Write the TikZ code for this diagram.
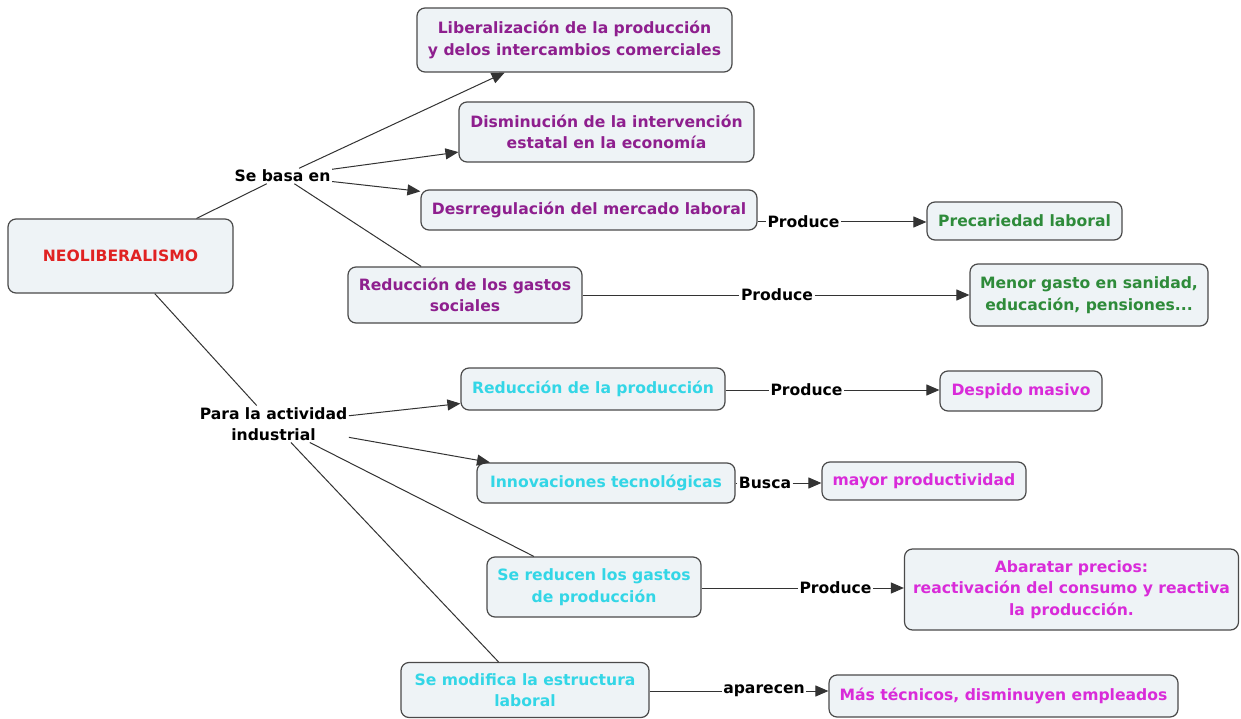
\documentclass[tikz,border=0pt]{standalone}
\usepackage{fontspec}
\setmainfont{DejaVu Sans}
\usetikzlibrary{arrows.meta}
\definecolor{boxfill}{HTML}{EEF3F6}
\definecolor{boxline}{HTML}{4A4A4A}
\definecolor{cpurple}{HTML}{8E1F8E}
\definecolor{cgreen}{HTML}{2E8B3A}
\definecolor{ccyan}{HTML}{33D6E6}
\definecolor{cmag}{HTML}{D92BD9}
\definecolor{cred}{HTML}{E02222}
\begin{document}
\begin{tikzpicture}[x=1pt,y=-1pt,
  concept/.style={draw=boxline, fill=boxfill, rounded corners=8pt, line width=1.2pt,
    align=center, inner sep=0pt, font=\fontsize{15.6}{21.5}\selectfont\bfseries},
  link/.style={inner sep=1.5pt, align=center, text=black,
    font=\fontsize{15.6}{21.5}\selectfont\bfseries},
  conn/.style={line width=1pt, draw=black!80},
  arr/.style={conn, -{Triangle[length=13pt,width=11pt]}}
]
\useasboundingbox[fill=white] (0,0) rectangle (1241,719);

% concepts
\node[concept, text=cred, minimum width=225pt, minimum height=74pt] (neo) at (120.5,256) {NEOLIBERALISMO};
\node[concept, text=cpurple, minimum width=315pt, minimum height=64pt] (lib) at (574.5,40) {Liberalización de la producción\\y delos intercambios comerciales};
\node[concept, text=cpurple, minimum width=295pt, minimum height=60pt] (dism) at (606.5,132) {Disminución de la intervención\\estatal en la economía};
\node[concept, text=cpurple, minimum width=336pt, minimum height=40pt] (desr) at (589,210) {Desrregulación del mercado laboral};
\node[concept, text=cgreen, minimum width=195pt, minimum height=38pt] (prec) at (1024.5,221) {Precariedad laboral};
\node[concept, text=cpurple, minimum width=234pt, minimum height=56pt] (redgs) at (465,295) {Reducción de los gastos\\sociales};
\node[concept, text=cgreen, minimum width=238pt, minimum height=62pt] (menor) at (1089,295) {Menor gasto en sanidad,\\educación, pensiones...};
\node[concept, text=ccyan, minimum width=264pt, minimum height=42pt] (redprod) at (593,389) {Reducción de la producción};
\node[concept, text=cmag, minimum width=162pt, minimum height=40pt] (desp) at (1021,391) {Despido masivo};
\node[concept, text=ccyan, minimum width=258pt, minimum height=40pt] (innov) at (606,483) {Innovaciones tecnológicas};
\node[concept, text=cmag, minimum width=204pt, minimum height=38pt] (mayor) at (924,481) {mayor productividad};
\node[concept, text=ccyan, minimum width=214pt, minimum height=60pt] (sered) at (594,587) {Se reducen los gastos\\de producción};
\node[concept, text=cmag, minimum width=334pt, minimum height=81pt] (abar) at (1071.5,589.5) {Abaratar precios:\\reactivación del consumo y reactiva\\la producción.};
\node[concept, text=ccyan, minimum width=248pt, minimum height=55pt] (semod) at (525,690) {Se modifica la estructura\\laboral};
\node[concept, text=cmag, minimum width=349pt, minimum height=42pt] (mas) at (1003.5,696) {Más técnicos, disminuyen empleados};

% linking phrases
\node[link] (sb) at (282.5,176) {Se basa en};
\node[link] (para) at (273.5,424) {Para la actividad\\industrial};
\node[link] (p1) at (803.5,222) {Produce};
\node[link] (p2) at (777,295) {Produce};
\node[link] (p3) at (806.5,390) {Produce};
\node[link] (busca) at (765,483) {Busca};
\node[link] (p5) at (835.5,588) {Produce};
\node[link] (apar) at (764,691) {aparecen};

% connectors
\draw[conn] (neo) -- (sb);
\draw[arr] (sb) -- (lib);
\draw[arr] (sb) -- (dism);
\draw[arr] (sb) -- (desr);
\draw[conn] (sb) -- (redgs);
\draw[conn] (neo) -- (para);
\draw[arr] (para) -- (redprod);
\draw[arr] (para) -- (innov);
\draw[conn] (para) -- (sered);
\draw[conn] (para) -- (semod);

\draw[conn] (p1 -| desr.east) -- (p1);
\draw[arr] (p1) -- (p1 -| prec.west);
\draw[conn] (p2 -| redgs.east) -- (p2);
\draw[arr] (p2) -- (p2 -| menor.west);
\draw[conn] (p3 -| redprod.east) -- (p3);
\draw[arr] (p3) -- (p3 -| desp.west);
\draw[conn] (busca -| innov.east) -- (busca);
\draw[arr] (busca) -- (busca -| mayor.west);
\draw[conn] (p5 -| sered.east) -- (p5);
\draw[arr] (p5) -- (p5 -| abar.west);
\draw[conn] (apar -| semod.east) -- (apar);
\draw[arr] (apar) -- (apar -| mas.west);
\end{tikzpicture}
\end{document}
